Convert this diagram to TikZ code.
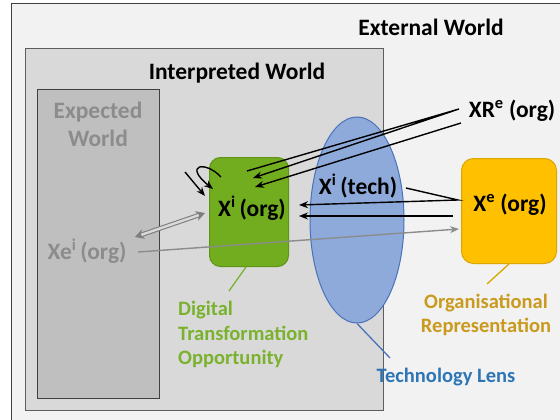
\documentclass[tikz,border=0pt]{standalone}
\usepackage{fontspec}
\setmainfont{Carlito}
\usetikzlibrary{arrows.meta,shapes.geometric}

\definecolor{outerfill}{HTML}{F2F2F2}
\definecolor{interpfill}{HTML}{D9D9D9}
\definecolor{expectfill}{HTML}{BFBFBF}
\definecolor{boxline}{HTML}{404040}
\definecolor{dtgreen}{HTML}{72AC1F}
\definecolor{dtgreenline}{HTML}{5E9418}
\definecolor{dttext}{HTML}{7AB22E}
\definecolor{lensfill}{HTML}{8EAADB}
\definecolor{lensline}{HTML}{4A72B8}
\definecolor{lenstext}{HTML}{2E75B6}
\definecolor{orgfill}{HTML}{FFC000}
\definecolor{orgline}{HTML}{D9A800}
\definecolor{orgtext}{HTML}{C99A1E}
\definecolor{dimtext}{HTML}{8C8C8C}
\definecolor{dimline}{HTML}{8C8C8C}

\tikzset{
  world/.style={draw=boxline, line width=1.2pt, anchor=north west, inner sep=0pt},
  title/.style={font=\fontsize{23.5}{28}\selectfont\bfseries, align=center, inner sep=0pt},
  element/.style={font=\fontsize{23.5}{28}\selectfont\bfseries, align=center, inner sep=0pt},
  label/.style={font=\fontsize{20.5}{24.5}\selectfont\bfseries, align=left, inner sep=0pt},
  flow/.style={line width=1.4pt, -{Stealth[length=9pt,width=7pt]}},
  callout/.style={line width=1.3pt},
}

\begin{document}
\begin{tikzpicture}[x=1pt,y=-1pt]
\useasboundingbox (0,0) rectangle (560,420);
\clip (0,0) rectangle (560,420);
\fill[white] (0,0) rectangle (560,420);

% nested worlds
\node[world, fill=outerfill, minimum width=570, minimum height=430] (outer) at (11,3) {};
\node[world, fill=interpfill, draw=boxline!85!white, minimum width=358, minimum height=362] (interp) at (25,48) {};
\node[world, fill=expectfill, minimum width=122, minimum height=309] (expect) at (37,89) {};

% world titles
\node[title] (exttitle) at (431,27) {External World};
\node[title] (interptitle) at (237,73) {Interpreted World};
\node[title, text=dimtext] (expecttitle) at (98,124) {Expected\\World};

% main shapes
\node[draw=dtgreenline, fill=dtgreen, rounded corners=11pt, line width=1pt,
      minimum width=79, minimum height=109, anchor=north west] (xiorg) at (209,157) {};
\node[ellipse, draw=lensline, fill=lensfill, line width=1pt,
      minimum width=94, minimum height=206, inner sep=0pt] (lens) at (357,220) {};
\node[draw=orgline, fill=orgfill, rounded corners=12pt, line width=1pt,
      minimum width=95, minimum height=105, anchor=north west] (xeorg) at (461,158) {};

% element texts
\node[element] (xiorgtext) at (252,208) {X\textsuperscript{i}\,(org)};
\node[element] (xitech) at (358,186) {X\textsuperscript{i}\,(tech)};
\node[element] (xeorgtext) at (510,205) {X\textsuperscript{e} (org)};
\node[element] (xreorg) at (512,111) {XR\textsuperscript{e} (org)};
\node[element, text=dimtext] (xeiorg) at (87,251) {Xe\textsuperscript{i}\,(org)};

% descriptive labels
\node[label, text=dttext, anchor=north west] (dtlabel) at (178,301) {Digital\\Transformation\\Opportunity};
\node[label, text=orgtext, align=center] (orglabel) at (486,315) {Organisational\\Representation};
\node[label, text=lenstext] (lenslabel) at (446,377) {Technology Lens};

% anchor points of the connectors
\coordinate (r1a) at (247,171);
\coordinate (r1tip) at (459,109);
\coordinate (r1b) at (253,178);
\coordinate (r2a) at (461,123);
\coordinate (r2b) at (255,187);
\coordinate (t1a) at (406,188);
\coordinate (t1tip) at (458,200);
\coordinate (t1b) at (299,205);
\coordinate (t2a) at (453,216);
\coordinate (t2b) at (299,216);
\coordinate (loopa) at (221,177);
\coordinate (loopb) at (213,189);
\coordinate (sa) at (185,172);
\coordinate (sb) at (205,196);
\coordinate (da) at (135,237);
\coordinate (db) at (205,213);
\coordinate (ga) at (138,252);
\coordinate (gb) at (459,229);

% external representation fed back into the organisation
\draw[flow] (r1a) -- (r1tip) -- (r1b);
\draw[flow] (r2a) -- (r2b);
% technology view passed through the organisational representation
\draw[flow] (t1a) -- (t1tip) -- (t1b);
\draw[flow] (t2a) -- (t2b);
% self reference of the interpreted organisation
\draw[flow] (loopa) .. controls (205,160) and (183,165) .. (loopb);
\draw[flow] (sa) -- (sb);
% expected vs interpreted
\draw[dimline!90!black, line width=1.1pt, double=interpfill, double distance=2.4pt,
      {Stealth[length=9pt,width=10pt]}-{Stealth[length=9pt,width=10pt]}] (da) -- (db);
\draw[dimline, line width=1.4pt, -{Stealth[length=9pt,width=7pt]}] (ga) -- (gb);

% callouts
\draw[callout, draw=dttext] (xiorg.south) ++(-3,0) -- (229,291);
\draw[callout, draw=lensline] (lens.south) -- (390,358);
\draw[callout, draw=orgline] (xeorg.south) -- (487,284);
\end{tikzpicture}
\end{document}
